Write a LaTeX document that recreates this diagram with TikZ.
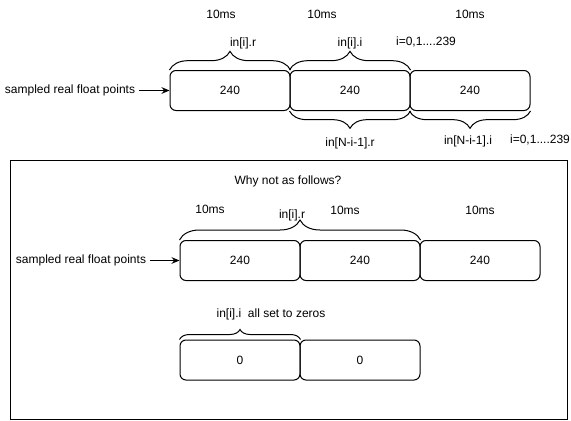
\documentclass[tikz,border=0pt]{standalone}
\usepackage{fontspec}
\setmainfont{Liberation Sans}
\usetikzlibrary{arrows.meta,decorations.pathreplacing}
\begin{document}
\begin{tikzpicture}[x=0.75pt,y=-0.75pt,
  cell/.style={draw,line width=0.75pt,rounded corners=4.5pt,minimum width=90pt,minimum height=30pt,inner sep=0pt,font=\fontsize{9pt}{11pt}\selectfont},
  lbl/.style={inner sep=0pt,font=\fontsize{9pt}{11pt}\selectfont},
  brc/.style={draw,line width=0.75pt,decorate,decoration={brace,amplitude=#1}},
  arr/.style={draw,line width=0.75pt,-{Stealth[length=6pt,width=5pt]}}]
\useasboundingbox (0,0) rectangle (571,421);
% top section
\node[lbl] (t10a) at (221,14) {10ms};
\node[lbl] (t10b) at (322,14) {10ms};
\node[lbl] (t10c) at (470,14) {10ms};
\node[cell] (a1) at (230,90.5) {240};
\node[cell] (a2) at (350,90.5) {240};
\node[cell] (a3) at (470,90.5) {240};
\node[lbl] (asrc) at (70,90.5) {sampled real float points};
\draw[arr] (asrc.east) ++(3pt,0) coordinate (asrcE) (asrcE) -- (a1.west);
\draw[brc=14pt] (a1.north west) -- (a1.north east);
\draw[brc=14pt] (a2.north west) -- (a2.north east);
\draw[brc=13pt] (a2.south east) -- (a2.south west);
\draw[brc=13pt] (a3.south east) -- (a3.south west);
\node[lbl] (ir) at (243,43) {in[i].r};
\node[lbl] (ii) at (350,43) {in[i].i};
\node[lbl] (irange1) at (426,42) {i=0,1....239};
\node[lbl] (nr) at (350,143) {in[N-i-1].r};
\node[lbl] (ni) at (468,141) {in[N-i-1].i};
\node[lbl] (irange2) at (540,140) {i=0,1....239};
% lower frame
\draw[line width=0.75pt] (10,160) rectangle (567,419.5);
\node[lbl] (why) at (288,181) {Why not as follows?};
\node[lbl] (b10a) at (210,209) {10ms};
\node[lbl] (b10b) at (345,210) {10ms};
\node[lbl] (b10c) at (480,210) {10ms};
\node[lbl] (bir) at (292,215) {in[i].r};
\node[cell] (b1) at (240,260.5) {240};
\node[cell] (b2) at (360,260.5) {240};
\node[cell] (b3) at (480,260.5) {240};
\node[lbl] (bsrc) at (81,260.5) {sampled real float points};
\draw[arr] (bsrc.east) ++(3pt,0) coordinate (bsrcE) (bsrcE) -- (b1.west);
\draw[brc=15pt] (b1.north west) -- (b2.north east);
\node[lbl] (zi) at (271,314) {in[i].i~~all set to zeros};
\node[cell] (z1) at (240,360) {0};
\node[cell] (z2) at (360,360) {0};
\draw[brc=7.5pt] (z1.north west) -- (z1.north east);
\end{tikzpicture}
\end{document}
